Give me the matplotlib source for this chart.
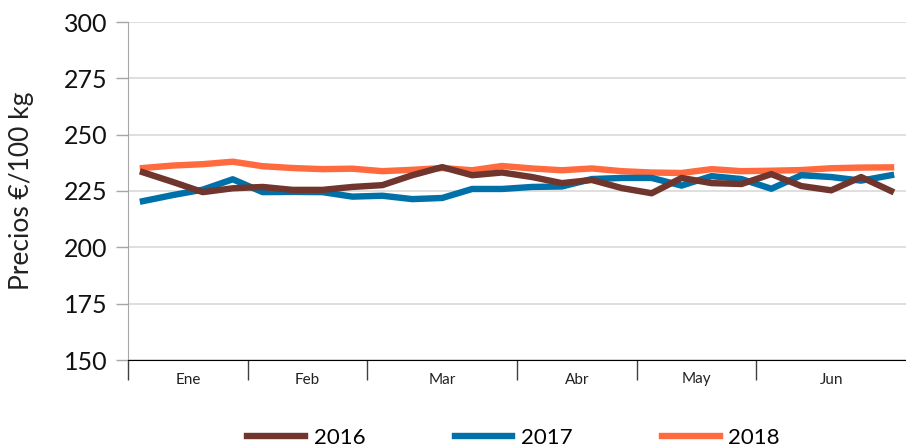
import matplotlib
matplotlib.use("Agg")
import matplotlib.pyplot as plt
import numpy as np

# precios semanales (primer semestre)
meses = ["Ene", "Feb", "Mar", "Abr", "May", "Jun"]
semanas_mes = [4, 4, 5, 4, 4, 5]

p2016 = [233.3, 229.0, 224.5, 226.2, 226.8, 225.5, 225.5, 226.8, 227.6, 232.0,
         235.6, 232.0, 233.2, 231.2, 228.5, 229.9, 226.3, 224.0, 230.8, 228.5,
         228.1, 232.5, 227.2, 225.3, 231.2, 225.0]
p2017 = [220.5, 223.2, 225.6, 230.2, 224.5, 224.6, 224.5, 222.5, 222.9, 221.4,
         221.9, 225.9, 225.9, 226.8, 227.0, 230.3, 230.8, 230.8, 227.4, 231.6,
         230.3, 226.0, 232.0, 231.2, 229.6, 232.0]
p2018 = [235.2, 236.3, 236.9, 238.0, 236.0, 235.2, 234.7, 234.9, 233.8, 234.4,
         235.2, 234.2, 236.1, 235.0, 234.2, 235.0, 233.8, 233.2, 233.0, 234.7,
         233.8, 234.0, 234.3, 235.1, 235.4, 235.5]

plt.rcParams['font.family'] = ['Lato', 'DejaVu Sans']

fig = plt.figure(figsize=(9.06, 4.47), dpi=100)
ax = fig.add_axes([128/906, 1-360/447, 1-128/906, (360-22)/447])

x = np.arange(len(p2016))
ax.plot(x, p2018, color="#FF6A3F", lw=4.6, label="2018", zorder=3)
ax.plot(x, p2017, color="#0070A8", lw=4.6, label="2017", zorder=4)
ax.plot(x, p2016, color="#70362E", lw=4.6, label="2016", zorder=5)

ax.set_ylim(150, 300)
ax.set_yticks(np.arange(150, 301, 25))
ax.set_xlim(-0.5, len(p2016) - 0.5)

# limites de mes como ticks mayores, nombres como menores
bordes = np.cumsum([0] + semanas_mes) - 0.5
centros = (bordes[:-1] + bordes[1:]) / 2
ax.set_xticks(bordes[:-1])
ax.set_xticklabels([])
ax.set_xticks(centros, minor=True)
ax.set_xticklabels(meses, minor=True)
ax.tick_params(axis="x", which="major", length=14.5, width=1, color="#404040")
ax.tick_params(axis="x", which="minor", length=0, pad=9, labelsize=11, labelcolor="#222222")
ax.tick_params(axis="y", length=8.6, width=1, color="#A6A6A6", pad=6, labelsize=18, labelcolor="#111111")

ax.grid(axis="y", color="#D9D9D9", lw=1.2)
ax.set_axisbelow(True)
for s in ["top", "right"]:
    ax.spines[s].set_visible(False)
ax.spines["left"].set_color("#A6A6A6")
ax.spines["bottom"].set_color("#000000")

fig.text(22/906, 1-191/447, "Precios €/100 kg", rotation=90, ha="center", va="center",
         fontsize=19, color="#222222")

h, l = ax.get_legend_handles_labels()
fig.legend(h[::-1], l[::-1], loc="center", bbox_to_anchor=(0.567, 1-438/447), ncol=3,
           frameon=False, fontsize=16, handlelength=2.6, columnspacing=4.0,
           handletextpad=0.4)

plt.savefig("out.png", dpi=100)
